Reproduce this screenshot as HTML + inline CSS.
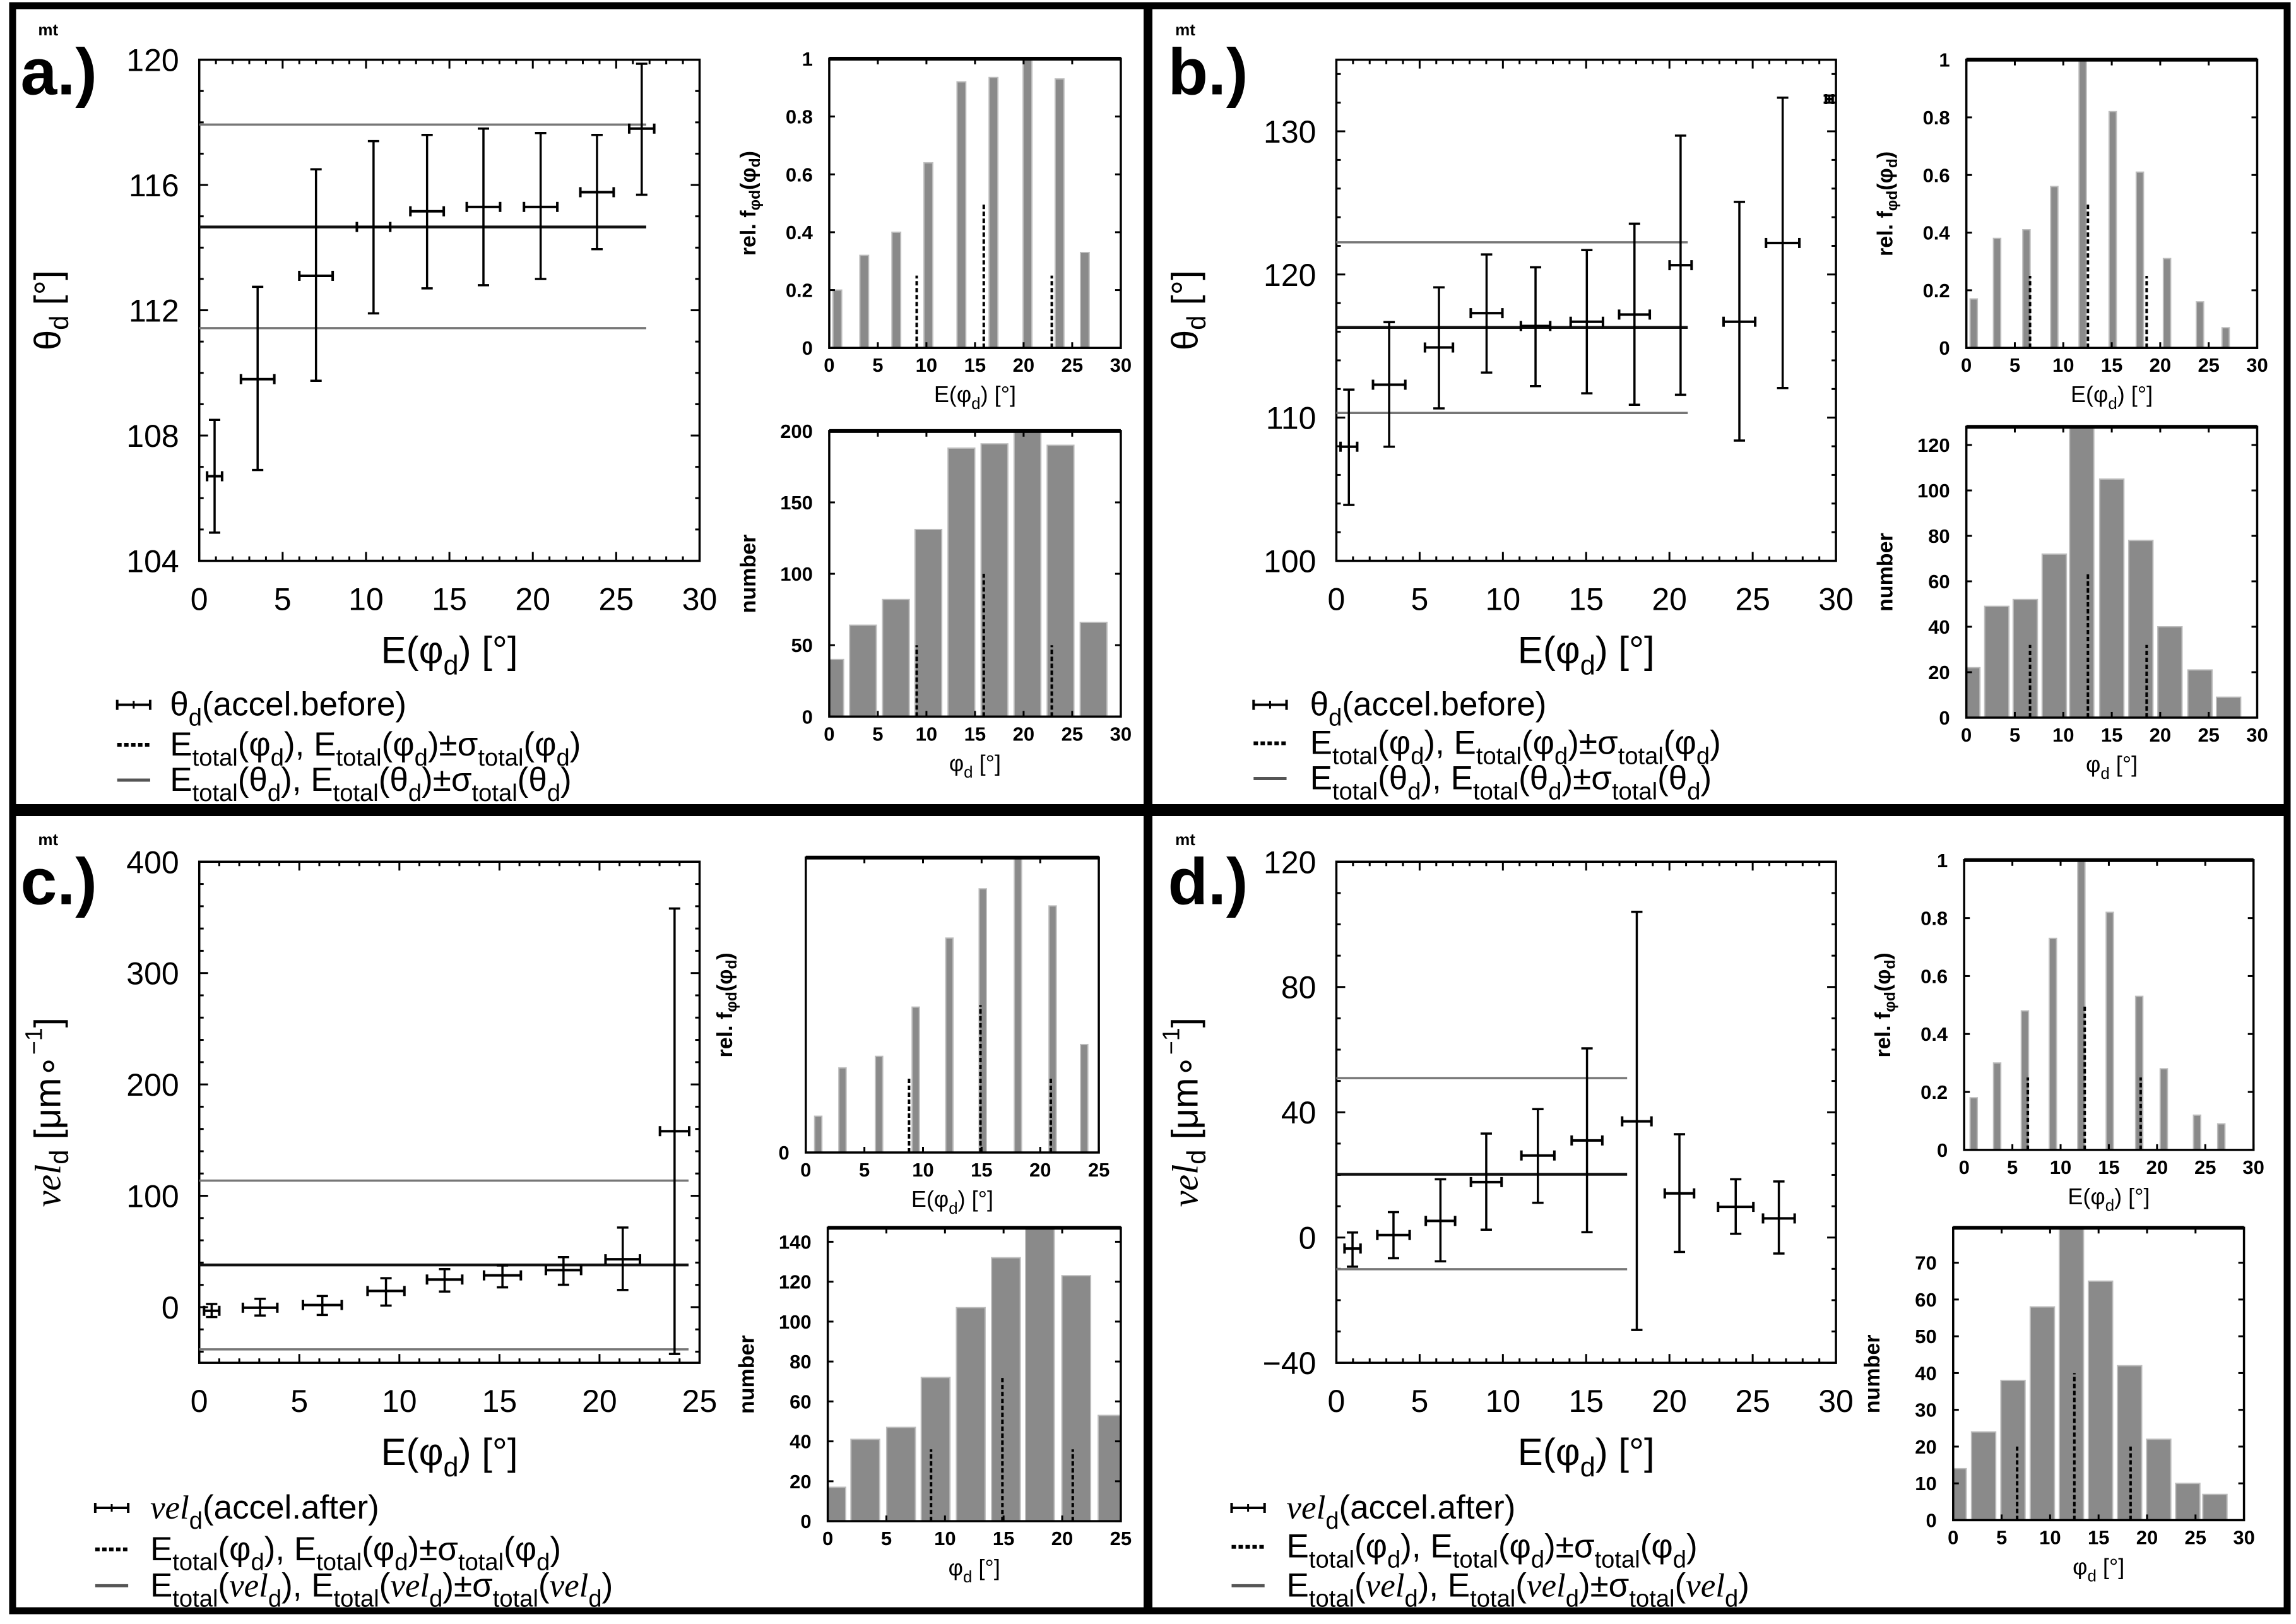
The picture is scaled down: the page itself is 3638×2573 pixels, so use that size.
<!DOCTYPE html>
<html><head><meta charset="utf-8">
<style>
html,body{margin:0;padding:0;background:#fff;}
svg{display:block;}
text{font-family:"Liberation Sans",Arial,sans-serif;fill:#000;}
</style></head>
<body>
<svg id="fig" xmlns="http://www.w3.org/2000/svg" width="3638" height="2573" viewBox="0 0 3638 2573">
<rect x="0" y="0" width="3638" height="2573" fill="#fff"/>
</svg>
<script>
// ---------- Panel a data ----------
const aEx=[0.92,3.5,7.0,10.45,13.66,17.04,20.47,23.85,26.53];
const aVal=[106.7,109.8,113.1,114.66,115.16,115.3,115.3,115.77,117.8];
const aLo=[104.9,106.9,109.75,111.9,112.7,112.8,113.0,113.95,115.69];
const aHi=[108.5,112.75,116.5,117.4,117.6,117.8,117.66,117.6,119.87];
const aXerr=[0.45,1.0,1.0,1.0,1.0,1.0,1.0,1.0,0.75];
const aMean=[114.66,111.43,117.93];
const aRelX=[0.83,3.6,6.9,10.2,13.6,16.9,20.4,23.7,26.3];
const aRel=[0.2,0.32,0.40,0.64,0.92,0.935,1.0,0.93,0.33];
const aDashX=[9.0,15.9,22.9];
const aDashRel=[0.25,0.5,0.25];
const aNumX=[0.1,3.47,6.86,10.2,13.6,17.0,20.4,23.8,27.2];
const aNum=[40,64,82,131,188,191,205,190,66];
const aDashNum=[50,100,50];
// ---------- Panel b data ----------
const bEx=[0.75,3.17,6.16,9.02,11.96,15.04,17.9,20.67,24.2,26.8,29.6];
const bVal=[107.97,112.3,114.9,117.3,116.4,116.7,117.2,120.65,116.7,122.2,132.25];
const bLo=[103.9,107.97,110.65,113.15,112.2,111.7,110.9,111.6,108.4,112.07,132.0];
const bHi=[111.96,116.67,119.1,121.4,120.5,121.7,123.55,129.7,125.07,132.35,132.5];
const bXerr=[0.5,0.97,0.84,0.95,0.88,0.97,0.92,0.66,0.95,1.0,0.2];
const bMean=[116.3,110.33,122.25];
const bRelX=[0.76,3.17,6.2,9.07,12.0,15.1,17.9,20.7,24.1,26.75];
const bRel=[0.17,0.38,0.41,0.56,1.0,0.82,0.61,0.31,0.16,0.07];
const bDashX=[6.57,12.54,18.6];
const bDashRel=[0.25,0.5,0.25];
const bNumX=[0.15,3.14,6.08,9.07,11.9,15.0,18.0,21.0,24.1,27.05];
const bNum=[22,49,52,72,130,105,78,40,21,9];
const bDashNum=[32,64,32];
// ---------- Panel c data ----------
const cEx=[0.62,3.04,6.15,9.33,12.26,15.15,18.2,21.16,23.75];
const cVal=[-3.3,-0.5,1.9,14.5,24.8,28.5,33.2,43,158];
const cLo=[-8.9,-7.5,-7.0,1.4,14,17.8,20.1,15.4,-42];
const cHi=[2.8,7.5,10,26,34.1,37.4,44.9,71.5,358];
const cXerr=[0.38,0.86,0.97,0.92,0.88,0.92,0.88,0.86,0.73];
const cMean=[37.9,-37.9,113.6];
const cRelX=[1.06,3.13,6.25,9.38,12.25,15.1,18.1,21.06,23.75];
const cRel=[0.123,0.287,0.326,0.493,0.727,0.894,1.0,0.836,0.366];
const cDashX=[8.81,14.9,20.9];
const cDashRel=[0.255,0.5,0.255];
const cNumX=[0.3,3.2,6.25,9.2,12.2,15.2,18.1,21.2,24.3];
const cNum=[17,41,47,72,107,132,150,123,53];
const cDashNum=[36,73,36];
// ---------- Panel d data ----------
const dEx=[0.97,3.43,6.25,9.0,12.1,15.05,18.04,20.6,23.98,26.57];
const dVal=[-3.5,0.8,5.3,17.7,26.2,31,37.1,14.1,9.8,6.1];
const dLo=[-9.3,-6.6,-7.6,2.5,11.1,1.7,-29.5,-4.6,1.2,-5.1];
const dHi=[1.6,8.1,18.6,33.2,41,60.4,104,33,18.6,17.9];
const dXerr=[0.48,0.97,0.88,0.92,0.99,0.92,0.88,0.88,1.06,0.95];
const dMean=[20.2,-10.1,50.9];
const dRelX=[0.99,3.42,6.3,9.2,12.15,15.1,18.15,20.7,24.15,26.66];
const dRel=[0.18,0.30,0.48,0.73,1.0,0.82,0.53,0.28,0.12,0.09];
const dDashX=[6.6,12.5,18.3];
const dDashRel=[0.25,0.5,0.25];
const dNumX=[0.1,3.14,6.17,9.2,12.2,15.2,18.2,21.2,24.2,27.0];
const dNum=[14,24,38,58,80,65,42,22,10,7];
const dDashNum=[20,40,20];

const NS='http://www.w3.org/2000/svg';
const svg=document.getElementById('fig');
const SX=1820/1568, SY=1290/1568;

function el(tag,attrs,parent,name){
  const e=document.createElementNS(NS,tag);
  for(const k in attrs) e.setAttribute(k,attrs[k]);
  
  
  (parent||svg).appendChild(e);
  return e;
}
function line(g,x1,y1,x2,y2,stroke,w,name,dash){
  const a={x1:x1,y1:y1,x2:x2,y2:y2,stroke:stroke,'stroke-width':w};
  if(dash) a['stroke-dasharray']=dash;
  return el('line',a,g,name);
}
function rich(g,x,y,pieces,size,anchor,name,extra){
  const a={x:x,y:y,'font-size':size,'text-anchor':anchor||'start'};
  if(extra) for(const k in extra) a[k]=extra[k];
  const t=el('text',a,g,name);
  let off=0;
  pieces.forEach(p=>{
    const ts=document.createElementNS(NS,'tspan');
    let target=0, fs=size;
    if(p[1]==='s'){target=size*0.3;fs=size*0.72;}
    if(p[1]==='S'){target=-size*0.38;fs=size*0.65;}
    ts.setAttribute('dy',(target-off).toFixed(2));
    off=target;
    ts.setAttribute('font-size',fs);
    if(p[1]==='i'){ts.setAttribute('font-family','"Liberation Serif",serif');ts.setAttribute('font-style','italic');}
    ts.textContent=p[0];
    t.appendChild(ts);
  });
  return t;
}

function drawPanel(P){
  const g=el('g',{},svg,'panel-'+P.id);
  const X=z=>P.ox+z*SX, Y=z=>P.oy+z*SY;
  el('text',{x:X(28),y:Y(182),'font-size':104,'font-weight':'bold'},g,'panel-label').textContent=P.id+'.)';
  el('text',{x:X(P.mtx),y:Y(68),'font-size':26,'font-weight':'bold'},g,'mt-label').textContent='mt';

  const m=P.main;
  const L=X(m.f[0]),R=X(m.f[1]),T=Y(m.f[2]),B=Y(m.f[3]);
  const mx=v=>L+(v-m.xr[0])/(m.xr[1]-m.xr[0])*(R-L);
  const my=v=>B-(v-m.yr[0])/(m.yr[1]-m.yr[0])*(B-T);
  const mg=el('g',{},g,'main-plot');
  for(let v=m.xr[0];v<=m.xr[1]+1e-9;v+=m.xminor){
    const x=mx(v);
    const maj=Math.abs(v/m.xstep-Math.round(v/m.xstep))<1e-6;
    const len=maj?14:7;
    line(mg,x,B,x,B-len,'#000',3,'x-tick');
    line(mg,x,T,x,T+len,'#000',3,'x-tick-top');
    if(maj){
      el('text',{x:x,y:B+78,'font-size':50,'text-anchor':'middle'},mg,'x-tick-label').textContent=String(Math.round(v));
    }
  }
  const ystart=Math.ceil((m.yr[0]-m.ybase)/m.yminor-1e-9)*m.yminor+m.ybase;
  for(let v=ystart;v<=m.yr[1]+1e-9;v+=m.yminor){
    const y=my(v);
    const maj=Math.abs((v-m.ybase)/m.ystep-Math.round((v-m.ybase)/m.ystep))<1e-6;
    const len=maj?14:7;
    line(mg,L,y,L+len,y,'#000',3,'y-tick');
    line(mg,R,y,R-len,y,'#000',3,'y-tick-right');
    if(maj){
      const lab=v<0?'\u2212'+Math.abs(Math.round(v)):String(Math.round(v));
      el('text',{x:L-32,y:y+18,'font-size':50,'text-anchor':'end'},mg,'y-tick-label').textContent=lab;
    }
  }
  el('rect',{x:L,y:T,width:R-L,height:B-T,fill:'none',stroke:'#000','stroke-width':3.5},mg,'main-frame');
  const xe=mx(P.lineEnd);
  line(mg,L,my(P.mean[1]),xe,my(P.mean[1]),'#777',3.5,'mean-minus-sigma-line');
  line(mg,L,my(P.mean[2]),xe,my(P.mean[2]),'#777',3.5,'mean-plus-sigma-line');
  line(mg,L,my(P.mean[0]),xe,my(P.mean[0]),'#111',4.5,'mean-line');
  P.ex.forEach((xv,i)=>{
    const eg=el('g',{},mg,'data-point');
    const cx=mx(xv), cy=my(P.val[i]);
    const y1=my(P.hi[i]), y2=my(P.lo[i]);
    const x1=mx(xv-P.xerr[i]), x2=mx(xv+P.xerr[i]);
    line(eg,cx,y1,cx,y2,'#000',3.5,'y-error-bar');
    line(eg,cx-9,y1,cx+9,y1,'#000',3.5,'y-error-cap');
    line(eg,cx-9,y2,cx+9,y2,'#000',3.5,'y-error-cap');
    line(eg,x1,cy,x2,cy,'#000',4,'x-error-bar');
    line(eg,x1,cy-8,x1,cy+8,'#000',4,'x-error-cap');
    line(eg,x2,cy-8,x2,cy+8,'#000',4,'x-error-cap');
  });
  rich(mg,(L+R)/2,B+162,[['E(','n'],['\u03c6','n'],['d','s'],[') [\u00b0]','n']],60,'middle','x-axis-title');
  const ycx=L-240, ycy=(T+B)/2;
  rich(mg,ycx,ycy,P.ytitle,58,'middle','y-axis-title',{transform:'rotate(-90 '+ycx+' '+ycy+')','dominant-baseline':'central'});

  function hist(H,name,ytitle,xtitle){
    const hg=el('g',{},g,name);
    const l=X(H.f[0]),r=X(H.f[1]),t=Y(H.f[2]),b=Y(H.f[3]);
    const hx=v=>l+(v-H.xr[0])/(H.xr[1]-H.xr[0])*(r-l);
    const hy=v=>b-(Math.min(v,H.ymax))/H.ymax*(b-t);
    H.xs.forEach((xv,i)=>{
      let x0=Math.max(hx(xv-H.w/2),l), x1=Math.min(hx(xv+H.w/2),r);
      const y=hy(H.vals[i]);
      el('rect',{x:x0,y:y,width:Math.max(x1-x0,1),height:b-y,fill:'#8a8a8a',stroke:'#bdbdbd','stroke-width':2},hg,'hist-bar');
    });
    H.dx.forEach((xv,i)=>{
      line(hg,hx(xv),b,hx(xv),hy(H.dv[i]),'#000',4,'dashed-mean-line','7 4');
    });
    for(let v=H.xr[0];v<=H.xr[1]+1e-9;v+=5){
      const x=hx(v);
      line(hg,x,b,x,b-9,'#000',3,'x-tick');
      line(hg,x,t,x,t+9,'#000',3,'x-tick-top');
      el('text',{x:x,y:b+38,'font-size':31,'font-weight':'bold','text-anchor':'middle'},hg,'x-tick-label').textContent=String(v);
    }
    if(H.ystep){
      for(let k=0;k*H.ystep<=H.ymax+1e-9;k++){
        const v=k*H.ystep, y=hy(v);
        line(hg,l,y,l+9,y,'#000',3,'y-tick');
        line(hg,r,y,r-9,y,'#000',3,'y-tick-right');
        const lab=H.ystep<1?(v===0?'0':(Math.abs(v-1)<1e-9?'1':v.toFixed(1))):String(Math.round(v));
        el('text',{x:l-26,y:y+11,'font-size':31,'font-weight':'bold','text-anchor':'end'},hg,'y-tick-label').textContent=lab;
      }
    } else {
      el('text',{x:l-26,y:b+11,'font-size':31,'font-weight':'bold','text-anchor':'end'},hg,'y-tick-label').textContent='0';
    }
    el('rect',{x:l,y:t,width:r-l,height:b-t,fill:'none',stroke:'#000','stroke-width':3.5},hg,'hist-frame');
    line(hg,l,t,r,t,'#000',6,'hist-frame-top');
    rich(hg,(l+r)/2,b+86,xtitle,36,'middle','hist-x-title');
    const cx=l-128, cy=(t+b)/2;
    rich(hg,cx,cy,ytitle,34,'middle','hist-y-title',{transform:'rotate(-90 '+cx+' '+cy+')','dominant-baseline':'central','font-weight':'bold'});
  }
  hist(P.top,'rel-freq-hist',[['rel. f','n'],['\u03c6d','s'],['(\u03c6','n'],['d','s'],[')','n']],[['E(\u03c6','n'],['d','s'],[') [\u00b0]','n']]);
  hist(P.bot,'count-hist',[['number','n']],[['\u03c6','n'],['d','s'],[' [\u00b0]','n']]);

  const lg=el('g',{},g,'legend');
  const sx0=X(P.leg.sx), sx1=X(P.leg.sx+45), tx=X(P.leg.tx);
  const r1=Y(P.leg.b[0]), r2=Y(P.leg.b[1]), r3=Y(P.leg.b[2]);
  const e1=el('g',{},lg,'legend-entry-data');
  line(e1,sx0,r1-17,sx1,r1-17,'#000',4,'legend-errorbar-symbol');
  line(e1,sx0,r1-25,sx0,r1-9,'#000',4,'legend-errorbar-cap');
  line(e1,sx1,r1-25,sx1,r1-9,'#000',4,'legend-errorbar-cap');
  line(e1,(sx0+sx1)/2,r1-23,(sx0+sx1)/2,r1-11,'#000',3,'legend-errorbar-mid');
  rich(e1,tx,r1,P.leg.t1,53,'start','legend-label');
  const e2=el('g',{},lg,'legend-entry-phi-mean');
  line(e2,sx0,r2-17,sx1,r2-17,'#000',6,'legend-dashed-symbol','7 4');
  rich(e2,tx,r2,[['E','n'],['total','s'],['(\u03c6','n'],['d','s'],['), E','n'],['total','s'],['(\u03c6','n'],['d','s'],[')\u00b1\u03c3','n'],['total','s'],['(\u03c6','n'],['d','s'],[')','n']],53,'start','legend-label');
  const e3=el('g',{},lg,'legend-entry-total-mean');
  line(e3,sx0,r3-17,sx1,r3-17,'#555',5,'legend-line-symbol');
  rich(e3,tx,r3,P.leg.t3,53,'start','legend-label');
}

const thetaLeg1=[['\u03b8','n'],['d','s'],['(accel.before)','n']];
const thetaLeg3=[['E','n'],['total','s'],['(\u03b8','n'],['d','s'],['), E','n'],['total','s'],['(\u03b8','n'],['d','s'],[')\u00b1\u03c3','n'],['total','s'],['(\u03b8','n'],['d','s'],[')','n']];
const velLeg1=[['vel','i'],['d','s'],['(accel.after)','n']];
const velLeg3=[['E','n'],['total','s'],['(','n'],['vel','i'],['d','s'],['), E','n'],['total','s'],['(','n'],['vel','i'],['d','s'],[')\u00b1\u03c3','n'],['total','s'],['(','n'],['vel','i'],['d','s'],[')','n']];
const thetaY=[['\u03b8','n'],['d','s'],[' [\u00b0]','n']];
const velY=[['vel','i'],['d','s'],[' [\u03bcm\u2218','n'],['\u22121','S'],[']','n']];

drawPanel({id:'a',ox:0,oy:0,mtx:52,
  main:{f:[272,955,115,1080],xr:[0,30],yr:[104,120],xstep:5,xminor:1,ystep:4,yminor:1,ybase:104},
  ex:aEx,val:aVal,lo:aLo,hi:aHi,xerr:aXerr,mean:aMean,lineEnd:26.8,ytitle:thetaY,
  top:{f:[1132,1530,113,670],xr:[0,30],ymax:1,ystep:0.2,xs:aRelX,vals:aRel,w:0.9,dx:aDashX,dv:aDashRel},
  bot:{f:[1132,1530,830,1380],xr:[0,30],ymax:200,ystep:50,xs:aNumX,vals:aNum,w:2.75,dx:aDashX,dv:aDashNum},
  leg:{sx:160,tx:232,b:[1378,1455,1523],t1:thetaLeg1,t3:thetaLeg3}});
drawPanel({id:'b',ox:1818,oy:0,mtx:38,
  main:{f:[258,940,115,1080],xr:[0,30],yr:[100,135],xstep:5,xminor:1,ystep:10,yminor:2,ybase:100},
  ex:bEx,val:bVal,lo:bLo,hi:bHi,xerr:bXerr,mean:bMean,lineEnd:21.1,ytitle:thetaY,
  top:{f:[1118,1515,115,670],xr:[0,30],ymax:1,ystep:0.2,xs:bRelX,vals:bRel,w:0.75,dx:bDashX,dv:bDashRel},
  bot:{f:[1118,1515,822,1382],xr:[0,30],ymax:128,ystep:20,xs:bNumX,vals:bNum,w:2.5,dx:bDashX,dv:bDashNum},
  leg:{sx:145,tx:222,b:[1378,1452,1520],t1:thetaLeg1,t3:thetaLeg3}});
drawPanel({id:'c',ox:0,oy:1283,mtx:52,
  main:{f:[272,955,100,1065],xr:[0,25],yr:[-50,400],xstep:5,xminor:1,ystep:100,yminor:20,ybase:0},
  ex:cEx,val:cVal,lo:cLo,hi:cHi,xerr:cXerr,mean:cMean,lineEnd:24.45,ytitle:velY,
  top:{f:[1100,1500,92,660],xr:[0,25],ymax:1,ystep:0,xs:cRelX,vals:cRel,w:0.62,dx:cDashX,dv:cDashRel},
  bot:{f:[1130,1530,805,1370],xr:[0,25],ymax:147,ystep:20,xs:cNumX,vals:cNum,w:2.45,dx:cDashX,dv:cDashNum},
  leg:{sx:130,tx:205,b:[1365,1445,1515],t1:velLeg1,t3:velLeg3}});
drawPanel({id:'d',ox:1818,oy:1283,mtx:38,
  main:{f:[258,940,100,1065],xr:[0,30],yr:[-40,120],xstep:5,xminor:1,ystep:40,yminor:10,ybase:-40},
  ex:dEx,val:dVal,lo:dLo,hi:dHi,xerr:dXerr,mean:dMean,lineEnd:17.46,ytitle:velY,
  top:{f:[1115,1510,97,655],xr:[0,30],ymax:1,ystep:0.2,xs:dRelX,vals:dRel,w:0.75,dx:dDashX,dv:dDashRel},
  bot:{f:[1100,1497,805,1368],xr:[0,30],ymax:79.5,ystep:10,xs:dNumX,vals:dNum,w:2.5,dx:dDashX,dv:dDashNum},
  leg:{sx:115,tx:190,b:[1365,1440,1515],t1:velLeg1,t3:velLeg3}});

el('rect',{x:20,y:9,width:3604,height:2543,fill:'none',stroke:'#000','stroke-width':11},svg,'outer-border');
el('rect',{x:1812,y:5,width:14,height:2550,fill:'#000'},svg,'vertical-divider');
el('rect',{x:15,y:1274,width:3612,height:19,fill:'#000'},svg,'horizontal-divider');
</script>
</body></html>
